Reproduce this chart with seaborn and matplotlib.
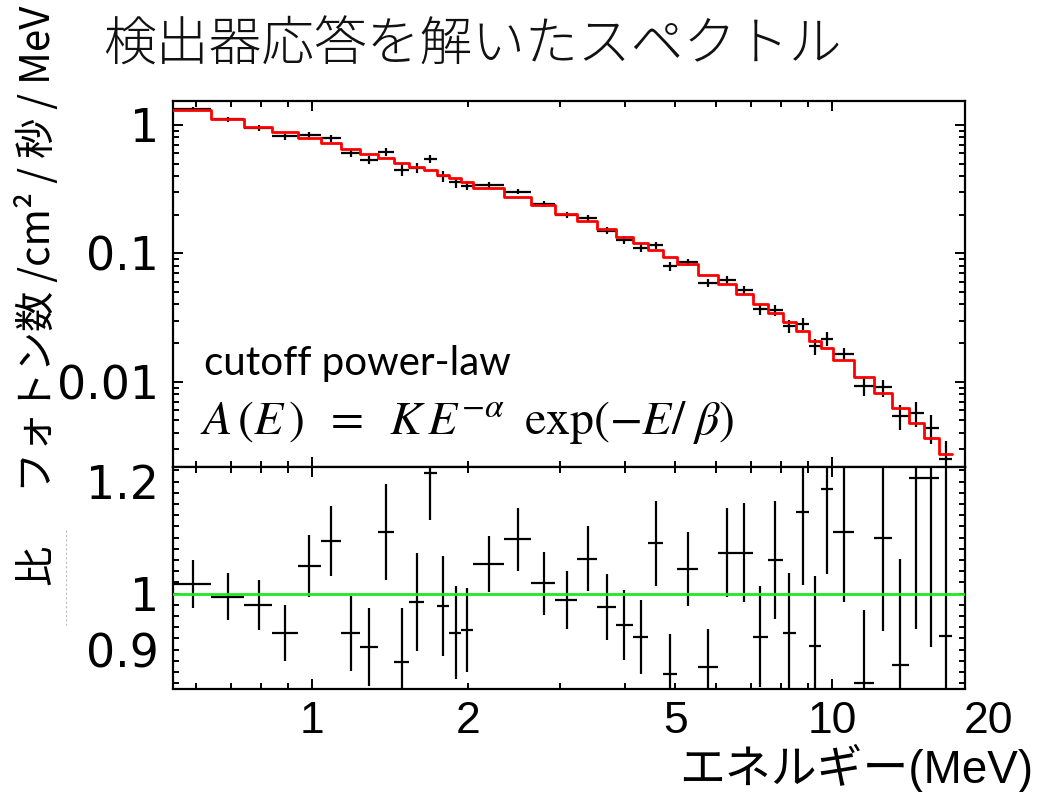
import matplotlib
matplotlib.use("Agg")
import matplotlib.pyplot as plt
import matplotlib.ticker as mticker
from matplotlib.lines import Line2D
import pandas as pd
import seaborn as sns

# ---------------- data ----------------
energy_edges = [0.54, 0.64, 0.74, 0.84, 0.94, 1.04, 1.14, 1.24, 1.34, 1.44,
                1.54, 1.64, 1.74, 1.84, 1.94, 2.04, 2.34, 2.64, 2.94, 3.24,
                3.54, 3.84, 4.14, 4.44, 4.74, 5.04, 5.54, 6.04, 6.54, 7.04,
                7.54, 8.04, 8.54, 9.04, 9.54, 10.04, 11.04, 12.04, 13.04, 14.04,
                15.04, 16.04, 17.04]
model_flux = [1.306, 1.111, 0.969, 0.875, 0.796, 0.719, 0.649, 0.590, 0.556, 0.508,
              0.473, 0.445, 0.407, 0.384, 0.361, 0.324, 0.276, 0.238, 0.202, 0.1785,
              0.1537, 0.1347, 0.1196, 0.1061, 0.0930, 0.0820, 0.0678, 0.0573, 0.0479, 0.0400,
              0.0341, 0.0290, 0.0248, 0.0209, 0.0182, 0.01476, 0.01095, 0.00821, 0.00620, 0.00474,
              0.00362, 0.00272]
data_flux = [1.328, 1.104, 0.949, 0.813, 0.835, 0.786, 0.603, 0.534, 0.617, 0.446,
             0.466, 0.541, 0.398, 0.357, 0.337, 0.341, 0.303, 0.242, 0.200, 0.1896,
             0.1500, 0.1272, 0.1103, 0.1156, 0.0796, 0.0856, 0.0589, 0.0615, 0.0514, 0.0369,
             0.0361, 0.0270, 0.0284, 0.0189, 0.0216, 0.01637, 0.00921, 0.00903, 0.00541, 0.00572,
             0.00437, 0.00251]
data_flux_err = [0.055, 0.047, 0.044, 0.044, 0.044, 0.045, 0.043, 0.041, 0.048, 0.049,
                 0.041, 0.038, 0.036, 0.032, 0.027, 0.016, 0.0155, 0.0136, 0.0105, 0.0104,
                 0.0091, 0.0084, 0.0079, 0.0081, 0.0067, 0.0054, 0.0045, 0.0046, 0.0042, 0.0036,
                 0.0036, 0.0031, 0.0032, 0.0026, 0.0027, 0.00183, 0.00142, 0.00137, 0.00117, 0.00128,
                 0.00110, 0.00095]
ratio = [1.017, 0.994, 0.979, 0.929, 1.049, 1.093, 0.929, 0.905, 1.110, 0.877,
         0.985, 1.216, 0.978, 0.930, 0.934, 1.052, 1.097, 1.018, 0.988, 1.062,
         0.976, 0.944, 0.922, 1.090, 0.856, 1.044, 0.869, 1.073, 1.073, 0.923,
         1.060, 0.930, 1.146, 0.906, 1.186, 1.109, 0.841, 1.100, 0.873, 1.207,
         1.207, 0.924]
ratio_err = [0.042, 0.042, 0.045, 0.050, 0.055, 0.0625, 0.067, 0.070, 0.086, 0.097,
             0.087, 0.085, 0.089, 0.083, 0.075, 0.050, 0.056, 0.057, 0.052, 0.058,
             0.059, 0.0625, 0.066, 0.076, 0.072, 0.066, 0.067, 0.080, 0.088, 0.090,
             0.105, 0.107, 0.130, 0.125, 0.151, 0.124, 0.130, 0.167, 0.188, 0.271,
             0.303, 0.35]

xtick_values = [1, 2, 5, 10, 20]
xtick_labels = ["1", "2", "5", "10", "20"]
ytick_top_values = [0.01, 0.1, 1]
ytick_top_labels = ["0.01", "0.1", "1"]
ytick_ratio_values = [0.9, 1.0, 1.2]
ytick_ratio_labels = ["0.9", "1", "1.2"]

title_text = "検出器応答を解いたスペクトル"
ylabel_top = "フォトン数 /cm² / 秒 / MeV"
ylabel_ratio = "比"
xlabel_text = "エネルギー(MeV)"
model_name = "cutoff power-law"
model_formula = r"$A\,(E\,)\;\;=\;\;K\,E^{-\alpha}\;\;\mathrm{exp}(-E/\;\beta)$"

# ---------------- style ----------------
sns.set_theme(style="ticks")
plt.rcParams['font.family'] = ['Noto Sans CJK JP', 'DejaVu Sans']
plt.rcParams['mathtext.fontset'] = 'stix'
plt.rcParams['axes.linewidth'] = 1.6
plt.rcParams['text.color'] = 'black'
plt.rcParams['xtick.color'] = 'black'
plt.rcParams['ytick.color'] = 'black'

W_PX, H_PX = 1037, 792
fig = plt.figure(figsize=(W_PX / 100, H_PX / 100), dpi=100)
fig.patch.set_facecolor("white")

left_px, right_px = 173, 965
top_px, mid_px, bot_px = 100.5, 467, 688.5
ax1 = fig.add_axes([left_px / W_PX, 1 - mid_px / H_PX,
                    (right_px - left_px) / W_PX, (mid_px - top_px) / H_PX])
ax2 = fig.add_axes([left_px / W_PX, 1 - bot_px / H_PX,
                    (right_px - left_px) / W_PX, (bot_px - mid_px) / H_PX])

for ax in (ax1, ax2):
    ax.set_xscale("log")
    ax.set_facecolor("white")
    for s in ax.spines.values():
        s.set_color("black")
        s.set_linewidth(1.6)

centers = [(a + b) / 2 for a, b in zip(energy_edges[:-1], energy_edges[1:])]
halfw = [(b - a) / 2 for a, b in zip(energy_edges[:-1], energy_edges[1:])]

# ---------------- top panel ----------------
ax1.set_yscale("log")
ax1.errorbar(centers, data_flux, xerr=halfw, yerr=data_flux_err, fmt="none",
             ecolor="black", elinewidth=1.6, capsize=0, zorder=2)
step_df = pd.DataFrame({"E": energy_edges, "flux": model_flux + [model_flux[-1]]})
sns.lineplot(data=step_df, x="E", y="flux", drawstyle="steps-post", color="#ff0000",
             linewidth=2.0, ax=ax1, estimator=None, sort=False, zorder=3)

xlim = (0.541, 18.03)
ax1.set_xlim(*xlim)
ax1.set_ylim(0.00217, 1.55)
ax1.set_xlabel("")
ax1.set_ylabel("")

ax1.yaxis.set_major_locator(mticker.FixedLocator(ytick_top_values))
ax1.yaxis.set_major_formatter(mticker.FixedFormatter(ytick_top_labels))
ax1.yaxis.set_minor_locator(mticker.LogLocator(base=10, subs=[2, 3, 4, 5, 6, 7, 8, 9]))
ax1.yaxis.set_minor_formatter(mticker.NullFormatter())

# ---------------- ratio panel ----------------
ax2.errorbar(centers, ratio, xerr=halfw, yerr=ratio_err, fmt="none",
             ecolor="black", elinewidth=1.6, capsize=0, zorder=2)
ax2.axhline(1.0, color="#22e822", linewidth=2.0, zorder=4)
ax2.set_xlim(*xlim)
ax2.set_ylim(0.8304, 1.2259)
ax2.set_xlabel("")
ax2.set_ylabel("")
ax2.yaxis.set_major_locator(mticker.FixedLocator(ytick_ratio_values))
ax2.yaxis.set_major_formatter(mticker.FixedFormatter(ytick_ratio_labels))
ax2.yaxis.set_minor_locator(mticker.MultipleLocator(0.02))
ax2.yaxis.set_minor_formatter(mticker.NullFormatter())

# x ticks
major_x = [1, 10]
minor_x = [0.6, 0.7, 0.8, 0.9, 2, 3, 4, 5, 6, 7, 8, 9]
lab = dict(zip(xtick_values, xtick_labels))
def xfmt(v, pos):
    for k, s in lab.items():
        if abs(v - k) < 1e-6:
            return s
    return ""
for ax in (ax1, ax2):
    ax.xaxis.set_major_locator(mticker.FixedLocator(major_x))
    ax.xaxis.set_minor_locator(mticker.FixedLocator(minor_x))
ax1.xaxis.set_major_formatter(mticker.NullFormatter())
ax1.xaxis.set_minor_formatter(mticker.NullFormatter())
ax2.xaxis.set_major_formatter(mticker.FuncFormatter(xfmt))
ax2.xaxis.set_minor_formatter(mticker.FuncFormatter(xfmt))

for ax in (ax1, ax2):
    ax.tick_params(which="both", direction="in", top=True, right=True,
                   color="black", width=1.4)
    ax.tick_params(which="major", length=7)
    ax.tick_params(which="minor", length=4.5)
ax2.tick_params(axis="y", which="major", length=4.5)

xtick_font = 'Liberation Sans'
XTICK_SIZE = 32
ax2.tick_params(axis="x", which="both", pad=9, labelsize=XTICK_SIZE,
                labelcolor="black", labelfontfamily=xtick_font)
for ax in (ax1, ax2):
    ax.tick_params(axis="y", which="major", pad=10, labelsize=33,
                   labelcolor="black", labelfontfamily='DejaVu Sans')

# tick labels beyond the plotted range (e.g. "20")
for v, s in zip(xtick_values, xtick_labels):
    if v > xlim[1]:
        ax2.annotate(s, xy=(v, 0), xycoords=("data", "axes fraction"),
                     xytext=(0, -9), textcoords="offset points",
                     ha="center", va="top", fontsize=XTICK_SIZE, family=xtick_font,
                     color="black", annotation_clip=False)

# ---------------- texts ----------------
fig.text(103 / W_PX, 1 - 46 / H_PX, title_text, ha="left", va="center",
         fontsize=38, color="#111111", fontweight="light")
fig.text(37 / W_PX, 1 - 249 / H_PX, ylabel_top, rotation=90, ha="center",
         va="center", fontsize=29, color="black")
fig.text(37 / W_PX, 1 - 565 / H_PX, ylabel_ratio, rotation=90, ha="center",
         va="center", fontsize=29, color="black")
fig.text(1033 / W_PX, 1 - 768 / H_PX, xlabel_text, ha="right", va="center",
         fontsize=33, family=['Liberation Sans', 'Noto Sans CJK JP'], color="black")
fig.text(204 / W_PX, 1 - 364 / H_PX, model_name, ha="left", va="center",
         fontsize=29, family=['Lato', 'DejaVu Sans'], color="black")
fig.text(200 / W_PX, 1 - 421 / H_PX, model_formula, ha="left", va="center",
         fontsize=34.5, color="black")

# faint textbox edge next to the ratio label
fig.add_artist(Line2D([66 / W_PX, 66 / W_PX], [1 - 530 / H_PX, 1 - 625 / H_PX],
                      transform=fig.transFigure, color="#bbbbbb", lw=0.8,
                      linestyle=(0, (2, 2))))

fig.savefig("out.png", dpi=100, facecolor="white")
